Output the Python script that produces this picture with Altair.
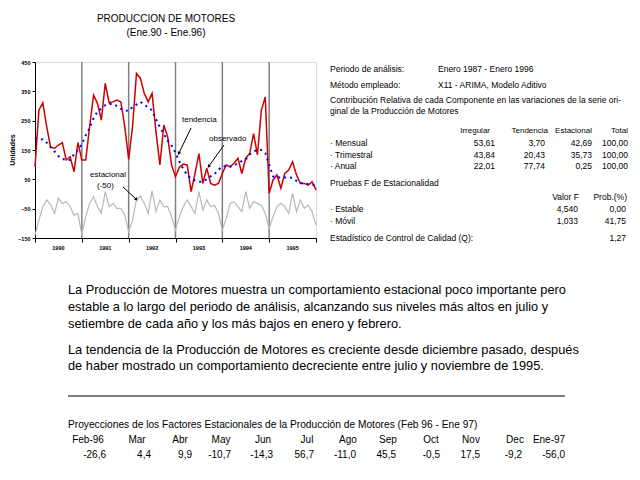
import altair as alt
import pandas as pd

FONT = "Liberation Sans"

# ---------------- data ----------------
start_year = 1990
observado = [93, 286, 311, 230, 159, 156, 167, 175, 116, 127, 76, 175,
             116, 116, 230, 337, 309, 252, 377, 311, 314, 320, 314, 230,
             118, 230, 411, 394, 343, 314, 343, 212, 99, 235, 195, 99,
             59, 91, 102, 99, 8, 70, 138, 36, 88, 36, 30, 36,
             70, 99, 93, 105, 122, 70, 122, 138, 206, 133, 286, 331,
             2, 48, 65, 20, 70, 82, 110, 65, 36, 36, 30, 42, 14]
tendencia = [190, 188, 186, 175, 160, 145, 129, 120, 116, 116, 135, 150,
             170, 200, 225, 258, 280, 292, 303, 307, 307, 300, 290, 285,
             283, 297, 305, 314, 305, 295, 285, 255, 228, 205, 182, 165,
             140, 110, 85, 65, 52, 46, 42, 42, 50, 60, 68, 82,
             95, 95, 93, 97, 105, 112, 118, 135, 145, 150, 150, 140,
             100, 60, 57, 56, 56, 57, 55, 45, 38, 36, 34, 32, 30]
estacional = [-140, -89, -43, -20, -37, -66, -14, -32, -26, -43, -72, -66,
              -140, -77, -32, -9, -43, -66, 8, -43, -32, -49, -49, -72,
              -128, -89, -20, -7, -32, -66, 11, -60, -20, -43, -43, -77,
              -123, -77, -43, -20, -43, -66, 8, -55, -20, -43, -38, -66,
              -123, -83, -32, -26, -43, -60, 8, -49, -26, -32, -38, -66,
              -117, -77, -43, -32, -43, -66, 2, -60, -20, -49, -38, -60, -106]

year_bounds = [1991, 1992, 1993, 1994, 1995]
year_labels = [1990, 1991, 1992, 1993, 1994, 1995]
x_ticks = [1990, 1991, 1992, 1993, 1994, 1995, 1996]
y_ticks = [-150, -50, 50, 150, 250, 350, 450]

componentes = ["· Mensual", "· Trimestral", "· Anual"]
irregular = [53.61, 43.84, 22.01]
tend_pct = [3.70, 20.43, 77.74]
estac_pct = [42.69, 35.73, 0.25]
total_pct = [100.00, 100.00, 100.00]

pruebas = ["· Estable", "· Móvil"]
valor_f = [4.540, 1.033]
prob_f = [0.00, 41.75]
q_stat = 1.27

proy_meses = ["Feb-96", "Mar", "Abr", "May", "Jun", "Jul", "Ago", "Sep", "Oct", "Nov", "Dec", "Ene-97"]
proy_valores = [-26.6, 4.4, 9.9, -10.7, -14.3, 56.7, -11.0, 45.5, -0.5, 17.5, -9.2, -56.0]

parrafo = [
    "La Producción de Motores  muestra un comportamiento estacional poco importante pero",
    "estable a lo largo del periodo de análisis, alcanzando sus niveles más altos en julio y",
    "setiembre de cada año y los más bajos en enero y febrero.",
    "",
    "La tendencia de la Producción de Motores es creciente desde diciembre pasado, después",
    "de haber mostrado un comportamiento decreciente entre julio y noviembre de 1995.",
]

def fmt(v, d=2):
    return f"{v:.{d}f}".replace(".", ",")

# ---------------- chart ----------------
n = len(observado)
df = pd.DataFrame({
    "t": [start_year + i / 12 for i in range(n)],
    "observado": observado,
    "tendencia": tendencia,
    "estacional": estacional,
})

W, H = 281, 176
OX, OY = 35, 62  # page position of plot origin

xs = alt.Scale(domain=[1990, 1996], nice=False, zero=False)
ys = alt.Scale(domain=[-150, 450], nice=False, zero=False)

xaxis = alt.Axis(values=x_ticks, labels=False, title=None, grid=False,
                 tickSize=4, tickColor="black", domainColor="black")
yaxis = alt.Axis(values=y_ticks, title=None, grid=False, format="d", labelFontSize=5.5,
                 labelFontWeight="bold", labelFont=FONT, tickSize=3, tickColor="black",
                 domainColor="black", labelPadding=2, labelColor="black",
                 labelOverlap=False, labelFlush=False, labelBound=False)

base = alt.Chart(df)

grid = alt.Chart(pd.DataFrame({"yr": year_bounds})).mark_rule(color="#808080", strokeWidth=1.5).encode(
    x=alt.X("yr:Q", scale=xs, axis=xaxis))

seas = base.mark_line(color="#b8b8b8", strokeWidth=1.2).encode(
    x=alt.X("t:Q", scale=xs, axis=xaxis), y=alt.Y("estacional:Q", scale=ys, axis=yaxis))
obs = base.mark_line(color="#cc0000", strokeWidth=1.5).encode(
    x=alt.X("t:Q", scale=xs, axis=xaxis), y=alt.Y("observado:Q", scale=ys, axis=yaxis))
trd = base.mark_line(color="#0000ff", strokeWidth=2, strokeDash=[2, 4]).encode(
    x=alt.X("t:Q", scale=xs, axis=xaxis), y=alt.Y("tendencia:Q", scale=ys, axis=yaxis))

yl = alt.Chart(pd.DataFrame({"yr": [y + 0.5 for y in year_labels], "lab": [str(y) for y in year_labels]})).mark_text(
    fontSize=5.5, fontWeight="bold", font=FONT, color="black", baseline="middle").encode(
    x=alt.X("yr:Q", scale=xs, axis=xaxis), y=alt.value(248 - OY), text="lab:N")

one = pd.DataFrame({"k": [0]})
layers = [grid, seas, obs, trd, yl]


def txt(s, x, y, size=8.5, align="left", weight="normal", angle=0):
    return alt.Chart(one).mark_text(text=s, align=align, baseline="middle", fontSize=size, font=FONT,
                                    fontWeight=weight, color="black", angle=angle).encode(
        x=alt.value(x - OX), y=alt.value(y - OY))


def arrow(x1, y1, x2, y2, ang):
    r = alt.Chart(one).mark_rule(color="black", strokeWidth=1).encode(
        x=alt.value(x1 - OX), y=alt.value(y1 - OY), x2=alt.value(x2 - OX), y2=alt.value(y2 - OY))
    p = alt.Chart(one).mark_point(shape="triangle", filled=True, color="black", size=14, angle=ang, opacity=1).encode(
        x=alt.value(x2 - OX), y=alt.value(y2 - OY))
    return [r, p]

# titles
layers += [txt("PRODUCCION DE MOTORES", 166, 19, 10, "center"),
           txt("(Ene.90 - Ene.96)", 166, 33, 10, "center"),
           txt("Unidades", 13, 150, 7, "center", "bold", 270)]

# annotations
layers += [txt("tendencia", 182, 120, 8), txt("observado", 209, 139, 8),
           txt("estacional", 90, 175, 8), txt("(-50)", 97, 186, 8)]
layers += arrow(191, 128, 179, 153, 206)
layers += arrow(224, 145, 209, 166, 215)
layers += arrow(123, 187, 136, 199, 133)

# right panel
layers += [txt("Periodo de análisis:", 330, 69), txt("Enero 1987 - Enero 1996", 438, 69),
           txt("Método empleado:", 330, 85), txt("X11 - ARIMA, Modelo Aditivo", 438, 85),
           txt("Contribución Relativa de cada Componente en las variaciones de la serie ori-", 330, 100),
           txt("ginal de la Producción de Motores", 330, 111),
           txt("Irregular", 490, 131, 8, align="right"), txt("Tendencia", 548, 131, 8, align="right"),
           txt("Estacional", 592, 131, 8, align="right"), txt("Total", 628, 131, 8, align="right")]
for i, c in enumerate(componentes):
    yy = 143 + i * 11.5
    layers += [txt(c, 330, yy), txt(fmt(irregular[i]), 495, yy, align="right"),
               txt(fmt(tend_pct[i]), 545, yy, align="right"), txt(fmt(estac_pct[i]), 592, yy, align="right"),
               txt(fmt(total_pct[i]), 628, yy, align="right")]
layers += [txt("Pruebas F de Estacionalidad", 330, 183),
           txt("Valor F", 579, 197, align="right"), txt("Prob.(%)", 627, 197, align="right")]
for i, c in enumerate(pruebas):
    yy = 209 + i * 11.5
    layers += [txt(c, 330, yy), txt(fmt(valor_f[i], 3), 578, yy, align="right"),
               txt(fmt(prob_f[i]), 626, yy, align="right")]
layers += [txt("Estadístico de Control de Calidad (Q):", 330, 238), txt(fmt(q_stat), 626, 238, align="right")]

# paragraph
py = [290, 307, 324, 337, 350, 366]
for s, yy in zip(parrafo, py):
    if s:
        layers.append(txt(s, 68, yy, 12.8))

layers.append(alt.Chart(one).mark_rule(color="black", strokeWidth=1).encode(
    x=alt.value(68 - OX), x2=alt.value(565 - OX), y=alt.value(396 - OY)))

layers.append(txt("Proyecciones de los Factores Estacionales de la Producción de Motores (Feb 96 - Ene 97)", 68, 425, 10.2))
m_centers = [88, 137, 180, 221, 263, 307, 348, 388, 431, 471, 515, 549]
v_rights = [106, 151, 192, 231, 273, 314, 356, 396, 440, 480, 522, 565]
for m, v, cx, rx in zip(proy_meses, proy_valores, m_centers, v_rights):
    layers += [txt(m, cx, 440, 10, "center"), txt(fmt(v, 1), rx, 455, 10, "right")]

chart = alt.layer(*layers).properties(
    width=W, height=H,
    autosize=alt.AutoSizeParams(type="none"),
    padding={"left": OX - 8, "top": OY - 8, "right": 624 - (OX - 8) - W, "bottom": 456 - (OY - 8) - H},
).configure_view(stroke="black", strokeWidth=1).configure_axis(labelOverlap=False).configure(background="white")

chart.save("out.html", embed_options={"renderer": "svg", "actions": False})
